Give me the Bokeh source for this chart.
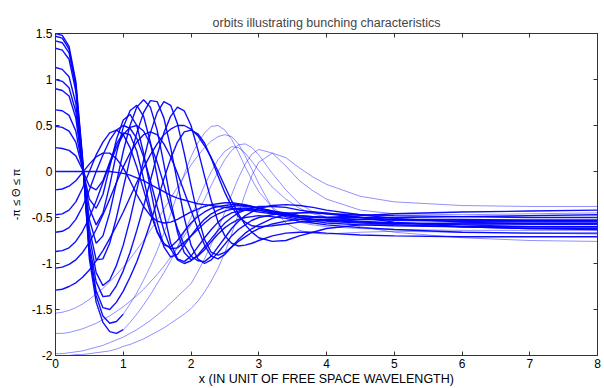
from bokeh.plotting import figure
from bokeh.models import Range1d, FixedTicker, LinearAxis
from bokeh.embed import file_html
from bokeh.resources import INLINE

# distance along the beam (free-space wavelengths)
x_grid = [0, 0.1, 0.2, 0.3, 0.4, 0.5, 0.6, 0.7, 0.8, 0.9, 1.0,
          1.1, 1.2, 1.3, 1.4, 1.5, 1.6, 1.7, 1.8, 1.9, 2.0,
          2.1, 2.2, 2.3, 2.4, 2.5, 2.6, 2.7, 2.8, 2.9, 3.0,
          3.2, 3.4, 3.6, 3.8, 4.0,
          4.5, 5.0, 6.0, 7.0, 8.0]

# phase orbits, named by their entry phase
orbit_p150 = [1.50, 1.48, 1.36, 0.98, 0.15, -0.95, -1.42, -1.64, -1.74, -1.76, -1.72,
              -1.64, -1.55, -1.45, -1.34, -1.22, -1.10, -0.97, -0.82, -0.66, -0.50,
              -0.32, -0.15, 0.00, 0.13, 0.22, 0.27, 0.26, 0.20, 0.11, 0.01,
              -0.17, -0.30, -0.40, -0.46, -0.50,
              -0.55, -0.57, -0.58, -0.58, -0.58]
orbit_p147 = [1.47, 1.45, 1.33, 0.95, 0.12, -0.90, -1.35, -1.57, -1.65, -1.63, -1.55,
              -1.44, -1.32, -1.18, -1.03, -0.86, -0.67, -0.46, -0.24, -0.03, 0.16,
              0.31, 0.42, 0.49, 0.50, 0.45, 0.35, 0.21, 0.05, -0.09, -0.22,
              -0.39, -0.49, -0.55, -0.58, -0.60,
              -0.62, -0.63, -0.64, -0.64, -0.64]
orbit_p142 = [1.42, 1.40, 1.29, 0.92, 0.10, -0.85, -1.30, -1.48, -1.50, -1.42, -1.30,
              -1.15, -0.98, -0.78, -0.56, -0.32, -0.08, 0.14, 0.32, 0.43, 0.45,
              0.41, 0.31, 0.14, -0.05, -0.23, -0.38, -0.49, -0.55, -0.59, -0.60,
              -0.59, -0.57, -0.55, -0.54, -0.53,
              -0.52, -0.52, -0.52, -0.53, -0.53]
orbit_p134 = [1.34, 1.32, 1.22, 0.87, 0.09, -0.80, -1.20, -1.36, -1.35, -1.24, -1.08,
              -0.88, -0.64, -0.38, -0.10, 0.18, 0.42, 0.60, 0.70, 0.66, 0.50,
              0.24, -0.05, -0.32, -0.55, -0.70, -0.78, -0.81, -0.80, -0.78, -0.75,
              -0.70, -0.67, -0.66, -0.66, -0.67,
              -0.69, -0.70, -0.71, -0.71, -0.71]
orbit_p113 = [1.13, 1.11, 1.03, 0.74, 0.07, -0.70, -1.10, -1.24, -1.18, -1.02, -0.80,
              -0.52, -0.20, 0.12, 0.42, 0.64, 0.76, 0.72, 0.52, 0.20, -0.15,
              -0.48, -0.74, -0.88, -0.91, -0.88, -0.82, -0.76, -0.71, -0.66, -0.62,
              -0.57, -0.54, -0.52, -0.52, -0.52,
              -0.54, -0.56, -0.58, -0.60, -0.60]
orbit_p100 = [1.00, 0.98, 0.91, 0.65, 0.06, -0.62, -0.96, -0.95, -0.78, -0.50, -0.18,
              0.14, 0.42, 0.64, 0.77, 0.76, 0.58, 0.26, -0.12, -0.50, -0.80,
              -0.95, -1.00, -0.96, -0.88, -0.79, -0.70, -0.63, -0.58, -0.53, -0.50,
              -0.47, -0.45, -0.45, -0.45, -0.46,
              -0.47, -0.48, -0.49, -0.50, -0.50]
orbit_p090 = [0.90, 0.88, 0.82, 0.58, 0.05, -0.52, -0.78, -0.70, -0.45, -0.12, 0.22,
              0.50, 0.70, 0.78, 0.70, 0.45, 0.08, -0.32, -0.66, -0.88, -0.96,
              -0.92, -0.85, -0.76, -0.68, -0.61, -0.56, -0.52, -0.50, -0.49, -0.48,
              -0.49, -0.51, -0.54, -0.56, -0.58,
              -0.61, -0.63, -0.66, -0.67, -0.67]
orbit_p067 = [0.67, 0.66, 0.61, 0.44, 0.04, -0.40, -0.58, -0.45, -0.15, 0.20, 0.48,
              0.66, 0.72, 0.60, 0.32, -0.05, -0.45, -0.78, -0.95, -0.98, -0.92,
              -0.82, -0.72, -0.63, -0.55, -0.49, -0.45, -0.43, -0.42, -0.42, -0.42,
              -0.45, -0.47, -0.50, -0.52, -0.54,
              -0.56, -0.57, -0.56, -0.56, -0.56]
orbit_p049 = [0.49, 0.48, 0.44, 0.32, 0.03, -0.30, -0.40, -0.25, 0.05, 0.35, 0.56,
              0.62, 0.50, 0.20, -0.18, -0.55, -0.82, -0.93, -0.90, -0.80, -0.70,
              -0.60, -0.52, -0.46, -0.42, -0.39, -0.38, -0.37, -0.38, -0.39, -0.40,
              -0.43, -0.45, -0.48, -0.49, -0.50,
              -0.50, -0.50, -0.49, -0.48, -0.47]
orbit_p026 = [0.26, 0.25, 0.23, 0.17, 0.02, -0.16, -0.20, -0.10, 0.10, 0.30, 0.42,
              0.40, 0.22, -0.08, -0.40, -0.66, -0.80, -0.82, -0.75, -0.65, -0.56,
              -0.49, -0.44, -0.40, -0.38, -0.37, -0.36, -0.36, -0.37, -0.38, -0.40,
              -0.43, -0.46, -0.48, -0.49, -0.50,
              -0.52, -0.53, -0.54, -0.54, -0.54]
orbit_z000 = [0.00, 0.00, 0.00, 0.00, 0.00, 0.00, 0.00, 0.00, 0.00, -0.01, -0.02,
              -0.04, -0.07, -0.10, -0.14, -0.18, -0.22, -0.26, -0.29, -0.31, -0.33,
              -0.35, -0.36, -0.37, -0.38, -0.39, -0.40, -0.41, -0.42, -0.43, -0.44,
              -0.46, -0.48, -0.50, -0.52, -0.53,
              -0.55, -0.56, -0.57, -0.57, -0.57]
orbit_m020 = [-0.20, -0.19, -0.16, -0.10, -0.01, 0.08, 0.16, 0.20, 0.20, 0.14, 0.04,
              -0.10, -0.25, -0.38, -0.48, -0.54, -0.56, -0.55, -0.52, -0.48, -0.44,
              -0.41, -0.38, -0.36, -0.35, -0.34, -0.34, -0.35, -0.36, -0.38, -0.40,
              -0.44, -0.46, -0.49, -0.50, -0.50,
              -0.48, -0.46, -0.44, -0.43, -0.42]
orbit_m047 = [-0.47, -0.46, -0.42, -0.33, -0.18, 0.00, 0.18, 0.32, 0.42, 0.45, 0.40,
              0.26, 0.05, -0.20, -0.45, -0.65, -0.78, -0.84, -0.83, -0.77, -0.70,
              -0.63, -0.56, -0.50, -0.46, -0.43, -0.41, -0.40, -0.40, -0.41, -0.42,
              -0.45, -0.49, -0.52, -0.54, -0.56,
              -0.58, -0.59, -0.60, -0.60, -0.60]
orbit_m066 = [-0.66, -0.65, -0.61, -0.52, -0.38, -0.20, 0.00, 0.18, 0.34, 0.45, 0.50,
              0.47, 0.36, 0.16, -0.10, -0.38, -0.64, -0.84, -0.96, -1.00, -0.97,
              -0.91, -0.82, -0.73, -0.64, -0.56, -0.50, -0.45, -0.42, -0.40, -0.38,
              -0.38, -0.39, -0.42, -0.44, -0.46,
              -0.50, -0.52, -0.53, -0.53, -0.53]
orbit_m087 = [-0.87, -0.86, -0.83, -0.76, -0.65, -0.50, -0.32, -0.12, 0.08, 0.26, 0.40,
              0.48, 0.50, 0.44, 0.30, 0.10, -0.14, -0.40, -0.62, -0.80, -0.92,
              -0.97, -0.98, -0.92, -0.82, -0.72, -0.62, -0.54, -0.48, -0.44, -0.40,
              -0.37, -0.36, -0.37, -0.39, -0.42,
              -0.47, -0.51, -0.55, -0.57, -0.57]
orbit_m105 = [-1.05, -1.04, -1.01, -0.96, -0.88, -0.77, -0.63, -0.47, -0.30, -0.12, 0.05,
              0.20, 0.32, 0.40, 0.43, 0.40, 0.30, 0.16, -0.02, -0.22, -0.42,
              -0.62, -0.80, -0.92, -0.95, -0.90, -0.82, -0.74, -0.67, -0.62, -0.58,
              -0.51, -0.47, -0.45, -0.44, -0.45,
              -0.50, -0.55, -0.60, -0.62, -0.62]
orbit_m129 = [-1.29, -1.28, -1.25, -1.21, -1.15, -1.07, -0.97, -0.86, -0.73, -0.59, -0.44,
              -0.28, -0.12, 0.04, 0.18, 0.30, 0.40, 0.46, 0.50, 0.50, 0.46,
              0.39, 0.28, 0.15, 0.00, -0.16, -0.32, -0.46, -0.58, -0.66, -0.72,
              -0.76, -0.75, -0.70, -0.66, -0.62,
              -0.58, -0.58, -0.60, -0.62, -0.63]
orbit_m154 = [-1.54, -1.53, -1.51, -1.48, -1.44, -1.39, -1.33, -1.27, -1.20, -1.12, -1.04,
              -0.95, -0.85, -0.75, -0.64, -0.53, -0.41, -0.29, -0.17, -0.05, 0.07,
              0.17, 0.26, 0.33, 0.38, 0.40, 0.38, 0.30, 0.17, 0.02, -0.13,
              -0.40, -0.56, -0.64, -0.67, -0.68,
              -0.66, -0.65, -0.66, -0.67, -0.68]
orbit_m176 = [-1.76, -1.76, -1.75, -1.73, -1.71, -1.68, -1.65, -1.61, -1.57, -1.52, -1.47,
              -1.41, -1.35, -1.28, -1.20, -1.12, -1.03, -0.93, -0.82, -0.70, -0.58,
              -0.45, -0.30, -0.15, 0.00, 0.13, 0.23, 0.29, 0.30, 0.26, 0.18,
              -0.02, -0.20, -0.35, -0.44, -0.50,
              -0.60, -0.66, -0.72, -0.75, -0.76]
orbit_m198 = [-1.98, -1.98, -1.97, -1.96, -1.95, -1.93, -1.91, -1.89, -1.86, -1.83, -1.80,
              -1.76, -1.72, -1.67, -1.62, -1.56, -1.50, -1.43, -1.36, -1.29, -1.22,
              -1.09, -0.95, -0.79, -0.62, -0.44, -0.25, -0.07, 0.08, 0.19, 0.24,
              0.20, 0.06, -0.10, -0.21, -0.30,
              -0.42, -0.46, -0.47, -0.46, -0.45]
orbit_m200 = [-2.00, -2.00, -2.00, -1.99, -1.99, -1.98, -1.97, -1.96, -1.95, -1.93, -1.90,
              -1.88, -1.85, -1.82, -1.78, -1.74, -1.70, -1.65, -1.60, -1.55, -1.49,
              -1.41, -1.31, -1.19, -1.05, -0.88, -0.68, -0.46, -0.24, -0.04, 0.10,
              0.20, 0.15, 0.04, -0.06, -0.14,
              -0.27, -0.33, -0.37, -0.38, -0.38]

dark_orbits = [orbit_p142, orbit_p134, orbit_p113, orbit_p100, orbit_p090, orbit_p067,
               orbit_p049, orbit_p026, orbit_z000, orbit_m020, orbit_m047, orbit_m066,
               orbit_m087, orbit_m105, orbit_m129]
faint_orbits = [orbit_m154, orbit_m176, orbit_m198, orbit_m200]
# the two outermost orbits are drawn heavy through the first overshoot, faint after it
split_orbits = [orbit_p150, orbit_p147]
split_at = 10

x_ticks = [0, 1, 2, 3, 4, 5, 6, 7, 8]
y_ticks = [-2, -1.5, -1, -0.5, 0, 0.5, 1, 1.5]
y_tick_text = ["-2", "-1.5", "-1", "-0.5", "0", "0.5", "1", "1.5"]

FONT = "Liberation Sans"
BLUE = "#0000ff"
DARK = dict(line_color=BLUE, line_width=1.4, line_alpha=0.95)
FAINT = dict(line_color=BLUE, line_width=0.8, line_alpha=0.55)

p = figure(width=604, height=388, output_backend="svg", toolbar_location=None,
           x_range=Range1d(0, 8), y_range=Range1d(-2, 1.5),
           min_border_left=55, min_border_right=7, min_border_top=33, min_border_bottom=33,
           title="orbits illustrating bunching characteristics")
p.title.align = "center"
p.title.text_font = FONT
p.title.text_font_size = "12.5px"
p.title.text_font_style = "normal"
p.title.standoff = 7

p.grid.visible = False
p.outline_line_color = "#333333"
p.background_fill_color = "white"
p.border_fill_color = "white"

for ys in faint_orbits:
    p.line(x_grid, ys, **FAINT)
for ys in split_orbits:
    p.line(x_grid[split_at:], ys[split_at:], **FAINT)
    p.line(x_grid[:split_at + 1], ys[:split_at + 1], **DARK)
for ys in dark_orbits:
    p.line(x_grid, ys, **DARK)

xa = p.xaxis[0]
xa.ticker = FixedTicker(ticks=x_ticks)
xa.axis_label = "x (IN UNIT OF FREE SPACE WAVELENGTH)"
ya = p.yaxis[0]
ya.ticker = FixedTicker(ticks=y_ticks)
ya.major_label_overrides = {t: s for t, s in zip(y_ticks, y_tick_text)}
ya.axis_label = "-π ≤ Θ ≤ π"

for ax in (xa, ya):
    ax.major_tick_in = 4
    ax.major_tick_out = 0
    ax.minor_tick_line_color = None
    ax.axis_line_color = "#333333"
    ax.major_tick_line_color = "#333333"
    ax.major_label_text_font = FONT
    ax.major_label_text_font_size = "12px"
    ax.major_label_text_color = "black"
    ax.axis_label_text_font = FONT
    ax.axis_label_text_font_size = "12.5px"
    ax.axis_label_text_font_style = "normal"
    ax.axis_label_text_color = "black"
xa.major_label_standoff = 3
xa.axis_label_standoff = 1
ya.major_label_standoff = 3
ya.axis_label_standoff = 7
ya.axis_label_text_font_size = "11px"

# tick marks on the opposite sides of the box, no labels
box_axis = dict(major_label_text_font_size="0px", major_label_text_color=None,
                major_tick_in=4, major_tick_out=0, minor_tick_line_color=None,
                axis_line_color="#333333", major_tick_line_color="#333333",
                major_label_standoff=0)
top = LinearAxis(ticker=FixedTicker(ticks=x_ticks), **box_axis)
right = LinearAxis(ticker=FixedTicker(ticks=y_ticks), **box_axis)
p.add_layout(top, "above")
p.add_layout(right, "right")

open("out.html", "w").write(file_html(p, INLINE))
